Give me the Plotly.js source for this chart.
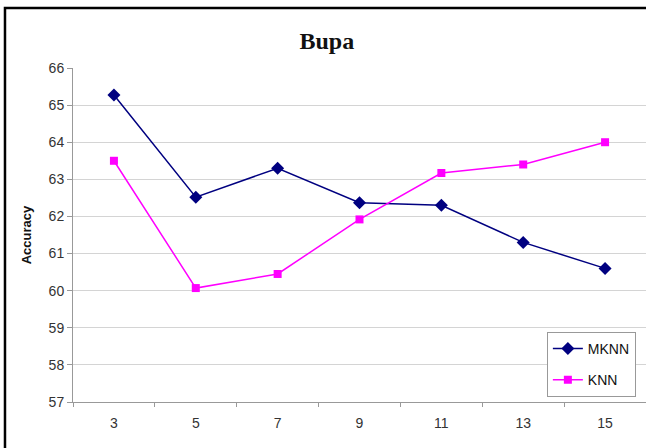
<!DOCTYPE html>
<html>
<head>
<meta charset="utf-8">
<script src="https://cdn.plot.ly/plotly-3.0.1.min.js"></script>
<style>
html,body{margin:0;padding:0;overflow:hidden;background:#fff;}
#chart{width:646px;height:448px;}
</style>
</head>
<body>
<div id="chart"></div>
<script>
const categories = ['3', '5', '7', '9', '11', '13', '15'];
const mknn = [65.27, 62.52, 63.3, 62.37, 62.3, 61.3, 60.6];
const knn = [63.5, 60.07, 60.45, 61.92, 63.17, 63.4, 64.0];
const yTicks = [57, 58, 59, 60, 61, 62, 63, 64, 65, 66];

const traces = [
  {
    x: categories, y: mknn, name: 'MKNN', type: 'scatter', mode: 'lines+markers',
    legendgroup: 'a',
    line: {color: '#000080', width: 1.5},
    marker: {symbol: 'diamond', size: 10, color: '#000080'}
  },
  {
    x: categories, y: knn, name: 'KNN', type: 'scatter', mode: 'lines+markers',
    legendgroup: 'b',
    line: {color: '#FF00FF', width: 1.5},
    marker: {symbol: 'square', size: 8, color: '#FF00FF'}
  }
];

const layout = {
  width: 646, height: 448,
  margin: {l: 73, r: 0, t: 68, b: 46},
  paper_bgcolor: '#fff', plot_bgcolor: '#fff',
  title: {text: '<b>Bupa</b>', x: 0.506, xanchor: 'center', y: 0.91, yanchor: 'middle',
          font: {family: 'Liberation Serif, Times New Roman, serif', size: 24, color: '#111'}},
  showlegend: true,
  legend: {x: 0.827, y: 0.21, xanchor: 'left', yanchor: 'top',
           bordercolor: '#999', borderwidth: 1, bgcolor: '#fff',
           entrywidth: 110, entrywidthmode: 'pixels',
           font: {family: 'Liberation Sans, Arial, sans-serif', size: 14, color: '#111'},
           tracegroupgap: 10},
  xaxis: {
    type: 'category', range: [-0.5, 6.5],
    showgrid: false, zeroline: false,
    showline: true, linecolor: '#999', linewidth: 1,
    ticks: 'outside', tickson: 'boundaries', ticklen: 4, tickcolor: '#999',
    ticklabelstandoff: 8,
    tickfont: {family: 'Liberation Sans, Arial, sans-serif', size: 14, color: '#333'}
  },
  yaxis: {
    range: [57, 66], tickvals: yTicks, ticktext: yTicks.map(String),
    showgrid: true, gridcolor: '#d4d4d4', gridwidth: 1, zeroline: false,
    showline: true, linecolor: '#999', linewidth: 1,
    ticks: 'outside', ticklen: 5, tickcolor: '#999',
    tickfont: {family: 'Liberation Sans, Arial, sans-serif', size: 14, color: '#333'},
    title: {text: '<b>Accuracy</b>', standoff: 14,
            font: {family: 'Liberation Sans, Arial, sans-serif', size: 13, color: '#111'}}
  },
  shapes: [{
    type: 'path', xref: 'paper', yref: 'paper',
    path: 'M -0.1187 -0.3 L -0.1187 1.1796 L 1.3 1.1796',
    line: {color: '#000', width: 2.5}
  }]
};

Plotly.newPlot('chart', traces, layout, {displayModeBar: false, staticPlot: true});
</script>
</body>
</html>
